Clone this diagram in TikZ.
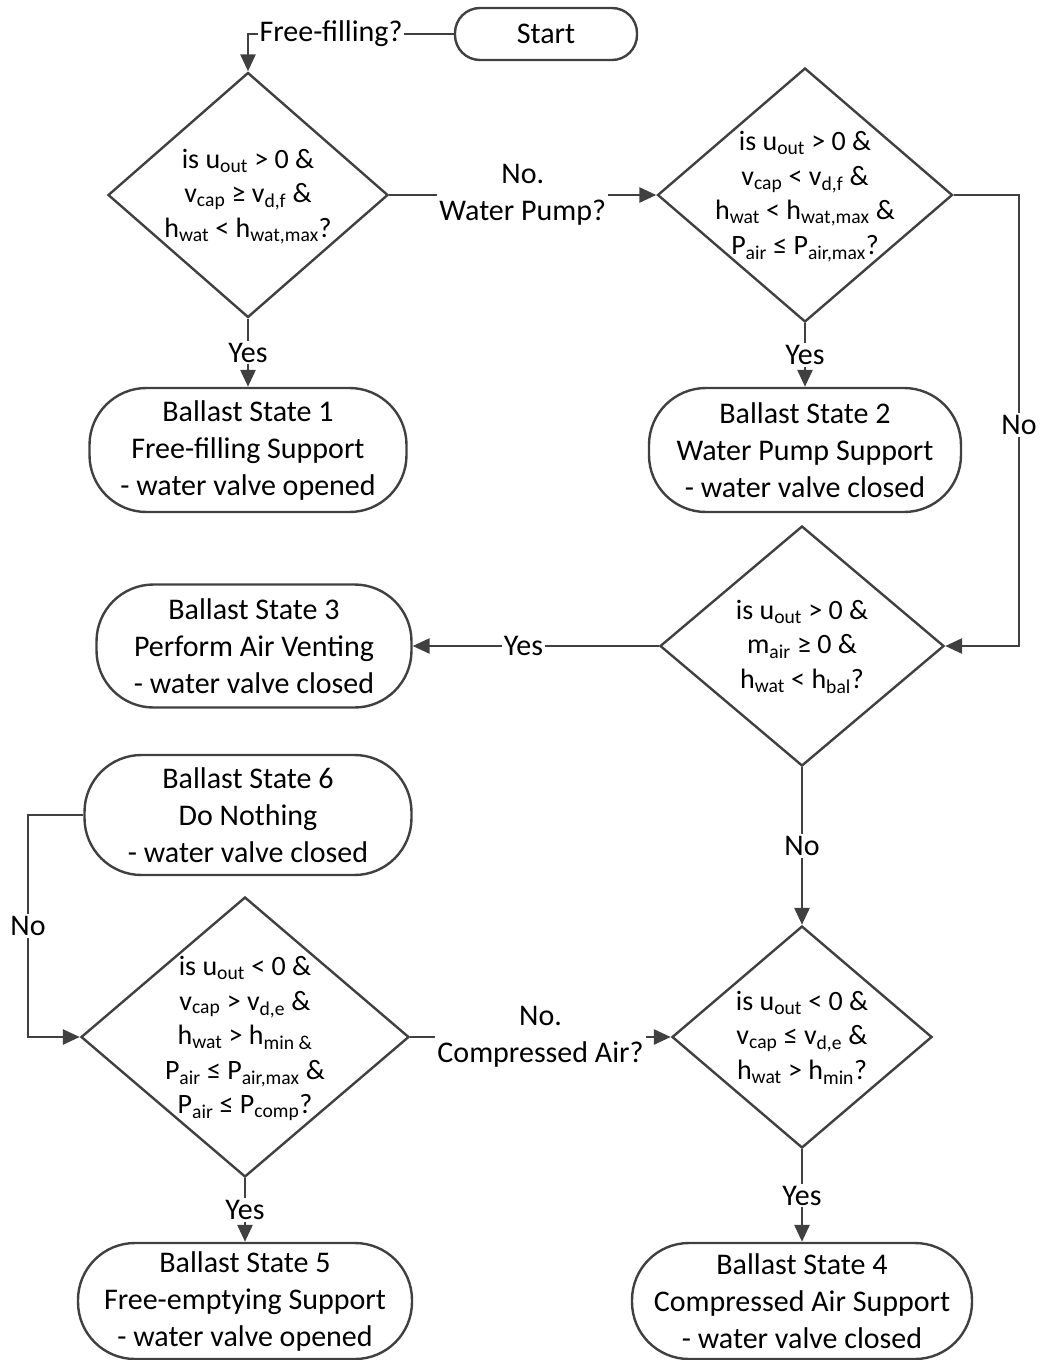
\documentclass[tikz,border=0pt]{standalone}
\usepackage{fontspec}
\setmainfont{Carlito}
\usetikzlibrary{shapes.geometric,arrows.meta}
\definecolor{lc}{HTML}{404040}
\newcommand{\dsub}[1]{\textsubscript{#1}}
\newcommand{\dtxt}[1]{\raisebox{-7pt}[0pt][0pt]{\makebox[0pt]{\begin{tabular}{@{}c@{}}#1\end{tabular}}}}
\begin{document}
\begin{tikzpicture}[x=1pt,y=-1pt,
  every node/.style={font=\fontsize{30}{37}\selectfont},
  conn/.style={draw=lc,line width=2.8pt},
  arr/.style={conn,-{Triangle[length=17pt,width=15pt]}},
  stbox/.style={draw=lc,line width=2.4pt,rounded corners=57pt,align=center,inner sep=0pt,fill=white},
  dia/.style={diamond,draw=lc,line width=2.4pt,inner sep=0pt,font=\fontsize{28}{34.5}\selectfont},
  lab/.style={fill=white,inner sep=2pt,align=center}]
\useasboundingbox (0,0) rectangle (1040,1360);

% nodes
\node[stbox,rounded corners=25pt,minimum width=182pt,minimum height=52pt] (start) at (546,34) {Start};
\node[lab,inner sep=1pt] (ff) at (331,34) {Free-filling?};

\node[dia,minimum width=280pt,minimum height=245pt] (d1) at (248,195)
  {\dtxt{is u\dsub{out} > 0 \&\\ v\dsub{cap} ≥ v\dsub{d,f} \&\\ h\dsub{wat} < h\dsub{wat,max}?}};
\node[stbox,minimum width=317pt,minimum height=124pt] (s1) at (248,450)
  {Ballast State 1\\ Free-filling Support\\ - water valve opened};

\node[dia,minimum width=295pt,minimum height=254pt] (d2) at (805,195)
  {\dtxt{is u\dsub{out} > 0 \&\\ v\dsub{cap} < v\dsub{d,f} \&\\ h\dsub{wat} < h\dsub{wat,max} \&\\ P\dsub{air} ≤ P\dsub{air,max}?}};
\node[stbox,minimum width=312pt,minimum height=124pt] (s2) at (805,450)
  {Ballast State 2\\ Water Pump Support\\ - water valve closed};

\node[dia,minimum width=284pt,minimum height=240pt] (d3) at (802,646)
  {\dtxt{is u\dsub{out} > 0 \&\\ m\dsub{air} ≥ 0 \&\\ h\dsub{wat} < h\dsub{bal}?}};
\node[stbox,minimum width=315pt,minimum height=123pt] (s3) at (254,646)
  {Ballast State 3\\ Perform Air Venting\\ - water valve closed};

\node[stbox,minimum width=327pt,minimum height=120pt] (s6) at (248,815)
  {Ballast State 6\\ Do Nothing\\ - water valve closed};

\node[dia,minimum width=328pt,minimum height=280pt] (d5) at (245,1037)
  {\dtxt{is u\dsub{out} < 0 \&\\ v\dsub{cap} > v\dsub{d,e} \&\\ h\dsub{wat} > h\dsub{min \&}\\ P\dsub{air} ≤ P\dsub{air,max} \&\\ P\dsub{air} ≤ P\dsub{comp}?}};
\node[stbox,minimum width=334pt,minimum height=116pt] (s5) at (245,1301)
  {Ballast State 5\\ Free-emptying Support\\ - water valve opened};

\node[dia,minimum width=260pt,minimum height=222pt] (d4) at (802,1037)
  {\dtxt{is u\dsub{out} < 0 \&\\ v\dsub{cap} ≤ v\dsub{d,e} \&\\ h\dsub{wat} > h\dsub{min}?}};
\node[stbox,minimum width=340pt,minimum height=116pt] (s4) at (802,1301)
  {Ballast State 4\\ Compressed Air Support\\ - water valve closed};

\coordinate (c1) at (1019,195);
\coordinate (c2) at (1019,646);
\coordinate (c3) at (28,815);
\coordinate (c4) at (28,1037);

% connectors
\draw[conn] (start.west) -- (ff.east);
\draw[arr] (ff.west) -| (d1.north);
\draw[arr] (d1.south) -- node[lab]{Yes} (s1.north);
\draw[arr] (d1.east) -- node[lab]{No.\\Water Pump?} (d2.west);
\draw[arr] (d2.south) -- node[lab]{Yes} (s2.north);
\draw[arr] (d2.east) -- (c1) -- node[lab,pos=0.51]{No} (c2) -- (d3.east);
\draw[arr] (d3.west) -- node[lab,pos=0.55]{Yes} (s3.east);
\draw[arr] (d3.south) -- node[lab]{No} (d4.north);
\draw[arr] (d4.south) -- node[lab]{Yes} (s4.north);
\draw[arr] (s6.west) -- (c3) -- node[lab]{No} (c4) -- (d5.west);
\draw[arr] (d5.east) -- node[lab]{No.\\Compressed Air?} (d4.west);
\draw[arr] (d5.south) -- node[lab]{Yes} (s5.north);
\end{tikzpicture}
\end{document}
